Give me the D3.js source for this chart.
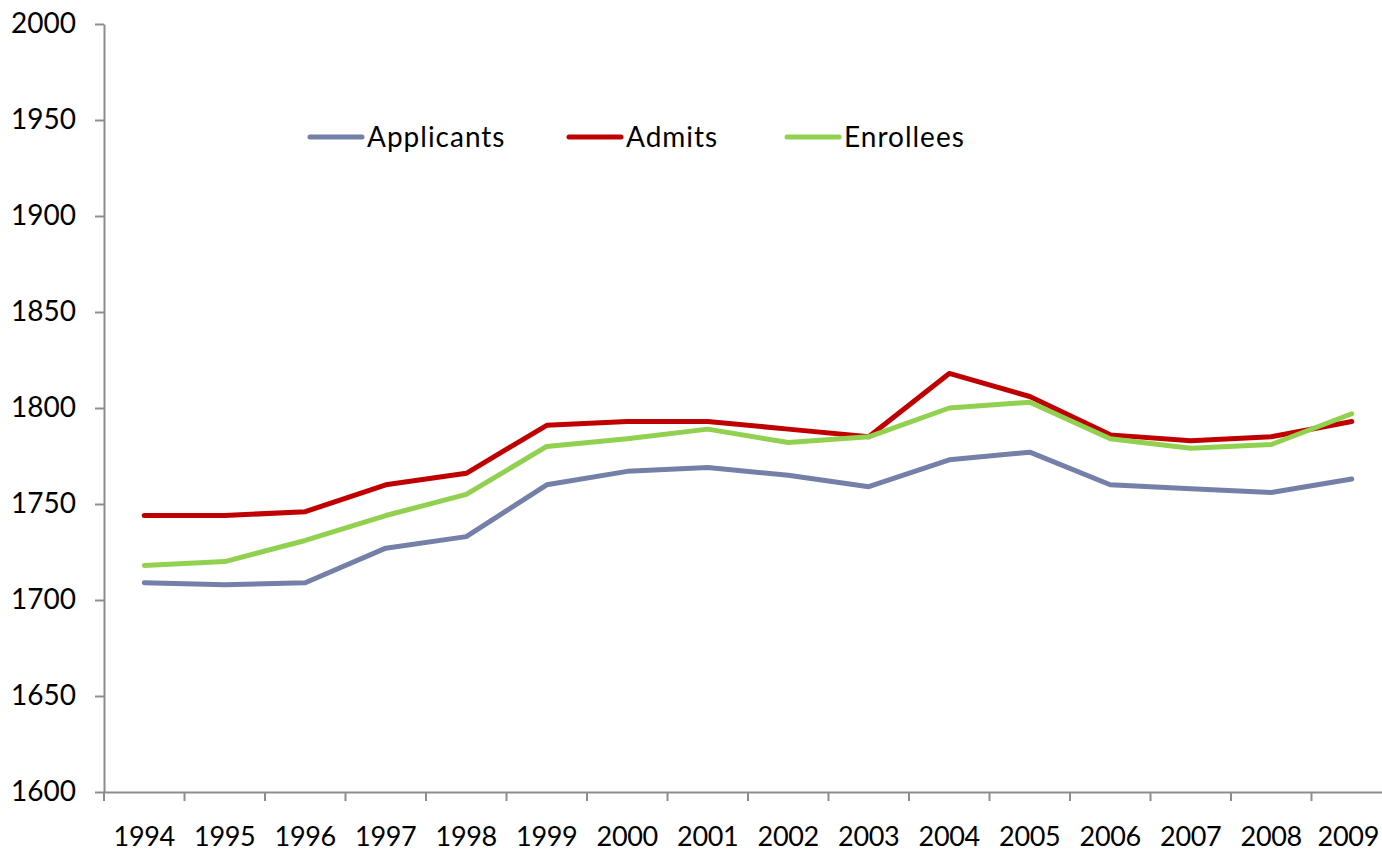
<!DOCTYPE html>
<html>
<head>
<meta charset="utf-8">
<script src="https://cdn.jsdelivr.net/npm/d3@7"></script>
<style>
  html, body { margin: 0; padding: 0; background: #fff; }
  svg { display: block; font-family: Lato, "Open Sans", sans-serif; }
</style>
</head>
<body>
<svg id="chart" width="1382" height="854"></svg>
<script>
// Yearly counts, 1994–2009
const years = ["1994","1995","1996","1997","1998","1999","2000","2001","2002","2003","2004","2005","2006","2007","2008","2009"];
const applicants = [1709,1708,1709,1727,1733,1760,1767,1769,1765,1759,1773,1777,1760,1758,1756,1763];
const admits     = [1744,1744,1746,1760,1766,1791,1793,1793,1789,1785,1818,1806,1786,1783,1785,1793];
const enrollees  = [1718,1720,1731,1744,1755,1780,1784,1789,1782,1785,1800,1803,1784,1779,1781,1797];
const yTicks = [1600,1650,1700,1750,1800,1850,1900,1950,2000];

const seriesNames = ["Applicants","Admits","Enrollees"];
const seriesColors = ["#7480a7","#c00000","#92d050"];
const seriesValues = [applicants, admits, enrollees];

const width = 1382;
const svg = d3.select("#chart");
const plotLeft = 104, plotRight = 1392, plotTop = 24, plotBottom = 792;

const x = d3.scaleBand().domain(years).range([plotLeft, plotRight]).paddingInner(0).paddingOuter(0);
const y = d3.scaleLinear().domain([1600, 2000]).range([plotBottom, plotTop]);

const axisColor = "#8c8c8c";
const labelSize = "28px";

// Y axis
const yAxis = svg.append("g")
  .attr("transform", `translate(${plotLeft},0)`)
  .call(d3.axisLeft(y).tickValues(yTicks).tickFormat(d3.format("d"))
    .tickSize(9).tickSizeOuter(0).tickPadding(19));
yAxis.select(".domain").attr("stroke", axisColor).attr("stroke-width", 2);
yAxis.selectAll(".tick line").attr("stroke", axisColor).attr("stroke-width", 2);
yAxis.selectAll(".tick text")
  .attr("fill", "#000").style("font-size", labelSize).style("font-family", "Lato, sans-serif");

// X axis: labels centred in each band, tick marks on band boundaries
const xAxis = svg.append("g")
  .attr("transform", `translate(0,${plotBottom})`)
  .call(d3.axisBottom(x).tickSize(0).tickSizeOuter(0).tickPadding(35));
xAxis.select(".domain").attr("stroke", axisColor).attr("stroke-width", 2);
xAxis.selectAll(".tick text")
  .attr("fill", "#000").style("font-size", "27px").style("font-family", "Lato, sans-serif")
  .style("letter-spacing", "-0.3px");
// keep the last year label inside the drawing area
xAxis.selectAll(".tick").each(function () {
  const t = d3.select(this);
  const box = this.getBoundingClientRect();
  if (box.right > width - 3) {
    t.select("text").attr("x", (width - 3) - box.right);
  }
});
xAxis.selectAll(".sep")
  .data(years)
  .join("line")
  .attr("class", "sep")
  .attr("x1", d => x(d)).attr("x2", d => x(d))
  .attr("y1", 0).attr("y2", 9)
  .attr("stroke", axisColor).attr("stroke-width", 2);

// Series lines
const line = d3.line()
  .x((d, i) => x(years[i]) + x.bandwidth() / 2)
  .y(d => y(d));

seriesValues.forEach((vals, k) => {
  svg.append("path")
    .datum(vals)
    .attr("d", line)
    .attr("fill", "none")
    .attr("stroke", seriesColors[k])
    .attr("stroke-width", 5)
    .attr("stroke-linejoin", "round")
    .attr("stroke-linecap", "round");
});

// Legend
const legendX = [310, 569, 787];
const legendY = 137;
const legend = svg.append("g");
seriesNames.forEach((name, k) => {
  const g = legend.append("g").attr("transform", `translate(${legendX[k]},${legendY})`);
  g.append("line")
    .attr("x1", 0).attr("x2", 52).attr("y1", 0).attr("y2", 0)
    .attr("stroke", seriesColors[k]).attr("stroke-width", 5).attr("stroke-linecap", "round");
  g.append("text")
    .attr("x", 57).attr("y", 0).attr("dy", "0.36em")
    .style("font-size", labelSize)
    .style("letter-spacing", "1px")
    .attr("fill", "#000")
    .text(name);
});
</script>
</body>
</html>
